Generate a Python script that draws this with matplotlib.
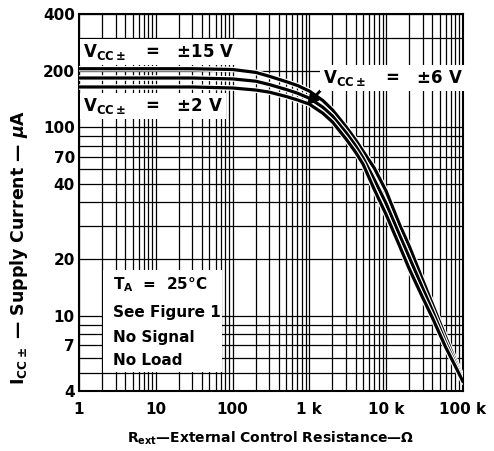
import numpy as np
import matplotlib
matplotlib.use("Agg")
import matplotlib.pyplot as plt
import matplotlib.patheffects as pe
from matplotlib.patches import Rectangle
from matplotlib.ticker import FixedLocator, LogLocator, NullFormatter

plt.rcParams["font.family"] = ["DejaVu Sans"]
plt.rcParams["font.weight"] = "bold"
plt.rcParams["axes.labelweight"] = "bold"
plt.rcParams["mathtext.fontset"] = "custom"
plt.rcParams["mathtext.rm"] = "DejaVu Sans:bold"
plt.rcParams["mathtext.it"] = "DejaVu Sans:bold:italic"
plt.rcParams["mathtext.bf"] = "DejaVu Sans:bold"

# R_ext in ohms, supply current in uA
r_ext = [1, 10, 30, 100, 200, 300, 500, 700, 1000, 1500, 2000, 3000, 4000,
         5000, 7000, 10000, 15000, 20000, 30000, 40000, 60000, 80000, 100000]
icc_15v = [205, 205, 205, 203, 196, 187, 175, 167, 156, 139, 124, 101, 86,
           75, 61, 46, 30.5, 23.5, 15.5, 11.6, 7.7, 5.8, 4.7]
icc_6v = [183, 183, 183, 181, 176, 169, 159, 152, 143, 128, 115, 94, 80,
          69, 53, 39.5, 26.8, 20.5, 14, 10.7, 7.2, 5.6, 4.6]
icc_2v = [164, 164, 164, 162, 158, 154, 146, 140, 133, 119, 107, 87, 74,
          64, 47, 34.5, 23.5, 17.8, 12.5, 9.8, 6.8, 5.4, 4.5]

x_ticks = [1, 10, 100, 1000, 10000, 100000]
x_labels = ["1", "10", "100", "1 k", "10 k", "100 k"]
# the datasheet labels the 50 line as "40"
y_ticks = [4, 7, 10, 20, 50, 70, 100, 200, 400]
y_labels = ["4", "7", "10", "20", "40", "70", "100", "200", "400"]

fig = plt.figure(figsize=(4.94, 4.51), dpi=100)
ax = fig.add_axes([0.16, 0.133, 0.777, 0.836])
ax.set_xscale("log")
ax.set_yscale("log")
ax.set_xlim(1, 100000)
ax.set_ylim(4, 400)

ax.xaxis.set_major_locator(FixedLocator(x_ticks))
ax.set_xticklabels(x_labels)
ax.xaxis.set_minor_locator(LogLocator(base=10, subs=np.arange(2, 10)))
ax.xaxis.set_minor_formatter(NullFormatter())
ax.yaxis.set_major_locator(FixedLocator(y_ticks))
ax.set_yticklabels(y_labels)
ax.yaxis.set_minor_locator(LogLocator(base=10, subs=np.arange(1, 10)))
ax.yaxis.set_minor_formatter(NullFormatter())

ax.set_axisbelow(True)
ax.grid(True, which="both", color="black", linewidth=0.9)
ax.tick_params(which="both", length=0)
ax.tick_params(axis="x", pad=8, labelsize=11)
ax.tick_params(axis="y", pad=3, labelsize=11)
for s in ax.spines.values():
    s.set_linewidth(1.5)

stroke = [pe.Stroke(linewidth=4.0, foreground="white"), pe.Normal()]
for ys in (icc_15v, icc_6v, icc_2v):
    ax.plot(r_ext, ys, color="black", linewidth=2.3, zorder=4,
            path_effects=stroke)

box = dict(facecolor="white", edgecolor="none", pad=2)
ax.text(0.01, 0.899, r"V$_{\mathrm{CC\pm}}$   =   ±15 V", transform=ax.transAxes,
        fontsize=12, va="center", ha="left", bbox=box, zorder=5)
ax.text(0.01, 0.756, r"V$_{\mathrm{CC\pm}}$   =   ±2 V", transform=ax.transAxes,
        fontsize=12, va="center", ha="left", bbox=box, zorder=5)
ax.annotate(r"V$_{\mathrm{CC\pm}}$   =   ±6 V", xy=(920, 131),
            xytext=(0.635, 0.83), textcoords="axes fraction",
            fontsize=12, va="center", ha="left", bbox=box, zorder=5,
            arrowprops=dict(arrowstyle="-|>", color="black", lw=2.0,
                            mutation_scale=16, shrinkA=0, shrinkB=0,
                            relpos=(0, 0)))

ax.add_patch(Rectangle((0.0625, 0.05), 0.31, 0.27, transform=ax.transAxes,
                       facecolor="white", edgecolor="none", zorder=2))
notes = [r"T$_{\mathrm{A}}$  =  25°C", "See Figure 1", "No Signal", "No Load"]
note_y = [0.281, 0.207, 0.141, 0.082]
for t, yy in zip(notes, note_y):
    ax.text(0.089, yy, t, transform=ax.transAxes, fontsize=11,
            va="center", ha="left", zorder=5)

ax.set_xlabel(r"R$_{\mathrm{ext}}$—External Control Resistance—Ω",
              fontsize=10, labelpad=9)
ax.set_ylabel(r"I$_{\mathrm{CC\pm}}$ — Supply Current — $\mathit{\mu}$A",
              fontsize=12.5)
ax.yaxis.set_label_coords(-0.128, 0.38)

fig.savefig("out.png", dpi=100)
